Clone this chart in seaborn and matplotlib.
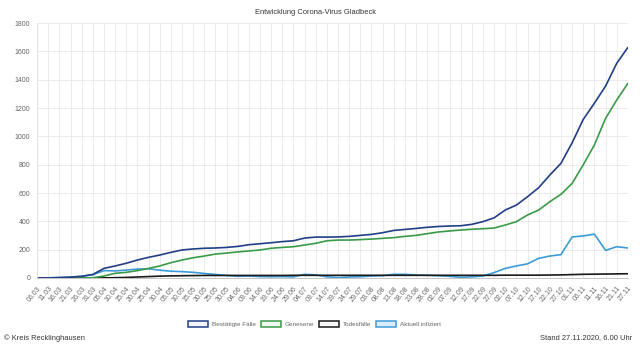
import numpy as np
import pandas as pd
import seaborn as sns
import matplotlib.pyplot as plt
from matplotlib.patches import Patch

# x axis labels (every 5 days, as in the original chart)
dates = ["06.03", "11.03", "16.03", "21.03", "26.03", "31.03", "05.04", "10.04", "15.04",
         "20.04", "25.04", "30.04", "05.05", "10.05", "15.05", "20.05", "25.05", "30.05",
         "04.06", "09.06", "14.06", "19.06", "24.06", "29.06", "04.07", "09.07", "14.07",
         "19.07", "24.07", "29.07", "03.08", "08.08", "13.08", "18.08", "23.08", "28.08",
         "02.09", "07.09", "12.09", "17.09", "22.09", "27.09", "02.10", "07.10", "12.10",
         "17.10", "22.10", "27.10", "01.11", "06.11", "11.11", "16.11", "21.11", "27.11"]

bestaetigt = [0, 1, 3, 6, 12, 25, 68, 85, 104, 127, 146, 162, 181, 198, 205, 210, 212, 216,
              223, 235, 242, 249, 257, 263, 282, 289, 289, 290, 294, 301, 308, 320, 336, 343,
              350, 358, 364, 367, 369, 379, 398, 425, 480, 515, 574, 638, 727, 810, 955, 1120,
              1235, 1355, 1516, 1628]
genesen = [0, 0, 0, 0, 0, 2, 14, 33, 40, 52, 68, 85, 108, 127, 143, 155, 169, 176, 184, 191,
           198, 210, 216, 221, 233, 245, 263, 268, 268, 271, 275, 280, 285, 294, 301, 313, 325,
           332, 339, 344, 348, 353, 374, 398, 445, 480, 539, 591, 668, 800, 940, 1127, 1257, 1374]
tote = [0, 0, 0, 0, 0, 0, 1, 2, 4, 7, 10, 13, 15, 16, 17, 18, 18, 18, 18, 18, 18, 18, 18, 19,
        19, 19, 19, 19, 19, 19, 19, 19, 19, 19, 19, 19, 19, 19, 19, 19, 19, 19, 20, 20, 20, 20,
        21, 22, 24, 26, 27, 28, 29, 30]
aktuell = [0, 1, 3, 6, 12, 23, 52, 50, 56, 63, 65, 55, 48, 45, 40, 32, 25, 18, 12, 14, 10, 9,
           10, 8, 26, 22, 8, 3, 7, 9, 14, 16, 26, 26, 21, 19, 16, 12, 5, 8, 14, 38, 68, 85, 100,
           139, 155, 165, 290, 297, 310, 195, 221, 212]

serien = ["Bestätigte Fälle", "Genesene", "Todesfälle", "Aktuell infiziert"]
farben = {"Bestätigte Fälle": "#223f85", "Genesene": "#3a9a48",
          "Todesfälle": "#1a1a1a", "Aktuell infiziert": "#3d9bd8"}
fuellung = {"Bestätigte Fälle": "#f2f4f9", "Genesene": "#eef7ef",
            "Todesfälle": "#f7f7f7", "Aktuell infiziert": "#d9eefa"}

idx = np.arange(len(dates))
df = pd.concat([
    pd.DataFrame({"idx": idx, "Wert": werte, "Serie": name})
    for name, werte in zip(serien, [bestaetigt, genesen, tote, aktuell])
])

sns.set_style("white")
plt.rcParams['font.family'] = ['Liberation Sans', 'DejaVu Sans']

fig = plt.figure(figsize=(6.4, 3.51), dpi=100)
ax = fig.add_axes([0.058, 0.208, 0.923, 0.726])

# first dataset on top, like the original
sns.lineplot(data=df, x="idx", y="Wert", hue="Serie", hue_order=serien[::-1],
             palette=farben, linewidth=1.2, legend=False, ax=ax)

ax.set_xlim(0, len(dates) - 1)
ax.set_ylim(0, 1800)
ax.set_yticks(np.arange(0, 1801, 200))
ax.set_xticks(idx)
ax.set_xticklabels(dates, rotation=50, ha="right", rotation_mode="anchor")
ax.tick_params(axis="both", labelsize=5, labelcolor="#666666", length=3,
               color="#e6e6e6", width=0.6, pad=2)
ax.set_xlabel("")
ax.set_ylabel("")
ax.grid(True, color="#e8e8e8", linewidth=0.6)
ax.set_axisbelow(True)
for s in ["top", "right"]:
    ax.spines[s].set_visible(False)
ax.spines["left"].set_color("#e0e0e0")
ax.spines["bottom"].set_color("#c4c4c4")
ax.spines["left"].set_linewidth(0.6)
ax.spines["bottom"].set_linewidth(0.7)

fig.text(0.493, 0.963, "Entwicklung Corona-Virus Gladbeck", ha="center", va="center",
         fontsize=5.4, color="#333333")

handles = [Patch(facecolor=fuellung[n], edgecolor=farben[n], linewidth=1.1) for n in serien]
fig.legend(handles, serien, loc="center", bbox_to_anchor=(0.491, 0.077), ncol=4,
           frameon=False, fontsize=4.6, labelcolor="#666666", handlelength=3.2,
           handleheight=1.1, handletextpad=0.5, columnspacing=0.8)

fig.text(0.006, 0.037, "© Kreis Recklinghausen", ha="left", va="center",
         fontsize=5.4, color="#333333")
fig.text(0.988, 0.037, "Stand 27.11.2020, 6.00 Uhr", ha="right", va="center",
         fontsize=5.4, color="#333333")

fig.savefig("out.png", dpi=100, facecolor="white")
